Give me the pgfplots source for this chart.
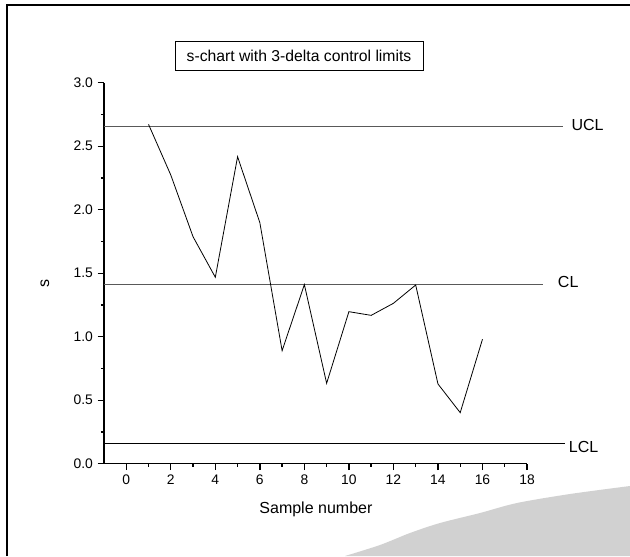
\documentclass[border=0pt]{standalone}
\usepackage{fontspec}
\setmainfont{Liberation Sans}
\usepackage{pgfplots}
\pgfplotsset{compat=1.18}
\begin{document}
\begin{tikzpicture}
\path[use as bounding box] (0,0) rectangle (472.5pt,417pt);
\begin{scope}[x=0.75pt,y=-0.75pt,yshift=417pt]
  \fill[black!18] plot[smooth] coordinates {(345,556) (380,545) (410,533) (440,523) (480,513) (517,503) (570,494) (630,486)} -- (630,556) -- cycle;
  \draw[line width=1.5pt] (6.5,556) -- (6.5,5) -- (630,5);
  \node[draw, line width=0.6pt, minimum width=186pt, minimum height=21.75pt, inner sep=0pt,
        font=\fontsize{11.8}{14}\selectfont] at (299,56.2) {s-chart with 3-delta control limits};
\end{scope}
\begin{axis}[
  at={(78pt,69.225pt)}, anchor=south west,
  scale only axis, width=317.25pt, height=285.75pt,
  xmin=-1, xmax=18, ymin=0, ymax=3,
  axis x line*=bottom, axis y line*=left,
  axis line style={-, line width=1.1pt},
  xtick={0,2,4,6,8,10,12,14,16,18},
  ytick={0,0.5,1,1.5,2,2.5,3},
  minor x tick num=1, minor y tick num=1,
  tick align=outside,
  major tick length=4.8pt, minor tick length=2.3pt,
  tick style={black, line width=1pt},
  /pgf/number format/assume math mode=true,
  yticklabel style={/pgf/number format/.cd, fixed, fixed zerofill, precision=1},
  ticklabel style={font=\fontsize{10.4}{12}\selectfont},
  xlabel={Sample number}, ylabel={s},
  label style={font=\fontsize{12}{14}\selectfont},
  xlabel style={at={(rel axis cs:0.501,-0.119)}, anchor=center},
  ylabel style={at={(rel axis cs:-0.1395,0.474)}, anchor=center},
  clip=false,
]
\addplot[black!65, line width=1.1pt] coordinates {(-1,2.654) (19.6,2.654)};
\addplot[black!65, line width=1.1pt] coordinates {(-1,1.409) (18.72,1.409)};
\addplot[black, line width=0.8pt] coordinates {(-1,0.160) (19.7,0.160)};
\addplot[black, line width=0.6pt] coordinates {
  (1,2.672) (2,2.273) (3,1.787) (4,1.468) (5,2.417) (6,1.898) (7,0.890) (8,1.410)
  (9,0.633) (10,1.197) (11,1.168) (12,1.263) (13,1.407) (14,0.628) (15,0.402) (16,0.980)};
\node[anchor=west, inner sep=0pt, font=\fontsize{12}{14}\selectfont] at (axis cs:19.99,2.667) {UCL};
\node[anchor=west, inner sep=0pt, font=\fontsize{12}{14}\selectfont] at (axis cs:19.38,1.433) {CL};
\node[anchor=west, inner sep=0pt, font=\fontsize{12}{14}\selectfont] at (axis cs:19.87,0.129) {LCL};
\end{axis}
\end{tikzpicture}
\end{document}
